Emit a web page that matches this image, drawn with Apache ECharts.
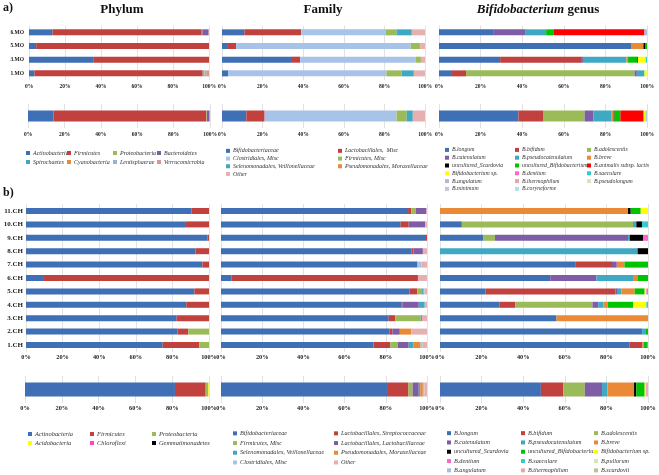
<!DOCTYPE html>
<html>
<head>
<meta charset="utf-8">
<script src="https://cdn.jsdelivr.net/npm/echarts@6.0.0/dist/echarts.min.js"></script>
<style>html,body{margin:0;padding:0;background:#fff}#main{width:659px;height:475px}</style>
</head>
<body>
<div id="main"></div>
<script>
// ---- data (a = infants by month, b = children) ----
var monthCats = ['1.MO', '3.MO', '5.MO', '6.MO']
var childCats = ['1.CH', '2.CH', '3.CH', '4.CH', '5.CH', '6.CH', '7.CH', '8.CH', '9.CH', '10.CH', '11.CH']

var topPhylumTaxa = ['Actinobacteria', 'Firmicutes', 'Proteobacteria', 'Bacteroidetes', 'Spirochaetes', 'Cyanobacteria', 'Lentisphaerae', 'Verrucomicrobia']
var topPhylumValues = [
  [3, 36, 4, 13],
  [93.5, 64, 96, 83],
  [1, 0, 0, 0.3],
  [0, 0, 0, 3.5],
  [0, 0, 0, 0],
  [0, 0, 0, 0],
  [1, 0, 0, 0],
  [1.5, 0, 0, 0.2]
]
var topPhylumTotal = [14, 84, 0.3, 1.2, 0, 0, 0, 0.5]

var topFamilyTaxa = ['Bifidobacteriaceae', 'Lactobacillales,  Misc', 'Clostridiales, Misc', 'Firmicutes, Misc', 'Selenomonadales, Veillonellaceae', 'Pseudomonadales, Moraxellaceae', 'Other']
var topFamilyValues = [
  [3, 34, 2.5, 11],
  [0, 4.5, 4.5, 28],
  [78, 57, 86, 41.5],
  [7.5, 2.5, 4.5, 5.5],
  [6, 0, 0, 7.5],
  [0, 0, 0.3, 0],
  [5.5, 2, 2.2, 6.5]
]
var topFamilyTotal = [12, 9, 65, 5, 3, 0, 6]

var topGenusTaxa = ['B.longum', 'B.bifidum', 'B.adolescentis', 'B.catenulatum', 'B.pseudocatenulatum', 'B.breve', 'uncultured_Scardovia', 'uncultured_Bifidobacterium', 'B.animalis subsp. lactis', 'Bifidobacterium sp.', 'B.dentium', 'B.saeculare', 'B.angulatum', 'B.thermophilum', 'B.pseudolongum', 'B.minimum', 'B.coryneforme']
var topGenusValues = [
  [5.8, 29.4, 92.3, 26],
  [7.2, 39.3, 0, 0],
  [81, 0, 0, 0],
  [1.1, 0.5, 0, 15.7],
  [3.7, 20.9, 0, 9.8],
  [0, 0.8, 6, 0],
  [0, 0, 1, 0],
  [0, 4.3, 0.7, 3.5],
  [0, 0.5, 0, 43.8],
  [1.1, 3.7, 0, 0],
  [0, 0, 0, 0],
  [0, 0.6, 0, 0],
  [0, 0, 0, 1.2],
  [0, 0, 0, 0],
  [0, 0, 0, 0],
  [0, 0, 0, 0],
  [0, 0, 0, 0]
]
var topGenusTotal = [38.2, 11.8, 20, 4.3, 8.5, 1.2, 0.4, 2.8, 11.2, 1, 0, 0.3, 0.3, 0, 0, 0, 0]

var botPhylumTaxa = ['Actinobacteria', 'Firmicutes', 'Proteobacteria', 'Acidobacteria', 'Chloroflexi', 'Gemmatimonadetes']
var botPhylumValues = [
  [74.7, 82.9, 82.3, 87.6, 92, 9.8, 96.4, 92.7, 99.1, 87.4, 90.5],
  [20, 5.8, 17.7, 12.4, 8, 90.2, 3.6, 7.3, 0.9, 12.6, 9.5],
  [5.3, 11.3, 0, 0, 0, 0, 0, 0, 0, 0, 0],
  [0, 0, 0, 0, 0, 0, 0, 0, 0, 0, 0],
  [0, 0, 0, 0, 0, 0, 0, 0, 0, 0, 0],
  [0, 0, 0, 0, 0, 0, 0, 0, 0, 0, 0]
]
var botPhylumTotal = [81.5, 16.7, 1.5, 0.3, 0, 0]

var botFamilyTaxa = ['Bifidobacteriaceae', 'Lactobacillales, Streptococcaceae', 'Firmicutes, Misc', 'Lactobacillales, Lactobacillaceae', 'Selenomonadales, Veillonellaceae', 'Pseudomonadales, Moraxellaceae', 'Clostridiales, Misc', 'Other']
var botFamilyValues = [
  [74, 81.9, 81.4, 87.5, 91.6, 5.2, 95.4, 92.4, 99.5, 87.2, 90.8],
  [8.2, 1.3, 3.2, 0.5, 3.7, 90.4, 0, 1, 0.5, 3.9, 1.6],
  [3.7, 0, 12.3, 0, 2.3, 0, 0, 0, 0, 0, 2.1],
  [5.2, 3.6, 0, 8, 0, 0, 0, 4.6, 0, 8.1, 5.2],
  [2.4, 0, 0.7, 2.9, 0.8, 0, 0, 0, 0, 0, 0],
  [3.4, 5.6, 0, 0, 0, 0, 0, 0, 0, 0, 0],
  [1, 0, 0, 0, 0.4, 0, 1.9, 0, 0, 0, 0],
  [2.1, 7.6, 2.4, 1.1, 1.2, 4.4, 2.7, 2, 0, 0.8, 0.3]
]
var botFamilyTotal = [80.6, 10.4, 2, 3, 0.7, 1.3, 0.8, 1.2]

var botGenusTaxa = ['B.longum', 'B.bifidum', 'B.adolescentis', 'B.catenulatum', 'B.pseudocatenulatum', 'B.breve', 'uncultured_Scardovia', 'uncultured_Bifidobacterium', 'Bifidobacterium sp.', 'B.dentium', 'B.saeculare', 'B.pullorum', 'B.angulatum', 'B.thermophilum', 'B.scardovii']
var botGenusValues = [
  [91.2, 97.2, 56, 28.7, 21.8, 53, 65, 0, 20.9, 10.5, 0],
  [6.2, 0, 0, 7.5, 62.5, 0, 17.7, 0, 0, 0, 0],
  [0, 0, 0, 37.1, 0, 0, 0, 0, 5.5, 82.3, 0],
  [0, 0, 0, 2.8, 0.8, 22.2, 2.3, 0, 64, 0, 0],
  [0, 1.8, 0, 2.4, 2.1, 17.6, 0, 95, 0.8, 1.6, 0],
  [0.5, 0, 44, 2.1, 6.4, 2.4, 3.7, 0, 0, 0, 90.4],
  [0, 0, 0, 0, 0, 0, 0, 5, 6.4, 2.7, 1.3],
  [1.6, 1, 0, 12.3, 4.8, 4.8, 11.3, 0, 0, 0, 4.8],
  [0, 0, 0, 6.3, 0.8, 0, 0, 0, 0, 0, 3.5],
  [0, 0, 0, 0, 0.8, 0, 0, 0, 2.4, 0, 0],
  [0.5, 0, 0, 0.8, 0, 0, 0, 0, 0, 2.9, 0],
  [0, 0, 0, 0, 0, 0, 0, 0, 0, 0, 0],
  [0, 0, 0, 0, 0, 0, 0, 0, 0, 0, 0],
  [0, 0, 0, 0, 0, 0, 0, 0, 0, 0, 0],
  [0, 0, 0, 0, 0, 0, 0, 0, 0, 0, 0]
]
var botGenusTotal = [48.5, 10.7, 10.4, 8.3, 2.6, 12.8, 1.1, 4, 0.8, 0.3, 0.3, 0, 0.2, 0, 0]

// ---- colours ----
var BLUE = '#3F6FB5', RED = '#C0413E', GREEN = '#9BBB59', PURPLE = '#7E5DA6', AQUA = '#3FA9C4', ORANGE = '#EB8A36'
var colors = {
  'Actinobacteria': BLUE, 'Firmicutes': RED, 'Proteobacteria': GREEN, 'Bacteroidetes': PURPLE,
  'Spirochaetes': AQUA, 'Cyanobacteria': ORANGE, 'Lentisphaerae': '#95B3D7', 'Verrucomicrobia': '#D99694',
  'Acidobacteria': '#FFFF00', 'Chloroflexi': '#FF44CC', 'Gemmatimonadetes': '#000000',
  'Bifidobacteriaceae': BLUE, 'Lactobacillales,  Misc': RED, 'Lactobacillales, Streptococcaceae': RED,
  'Clostridiales, Misc': '#A8C3E8', 'Firmicutes, Misc': GREEN, 'Lactobacillales, Lactobacillaceae': PURPLE,
  'Selenomonadales, Veillonellaceae': AQUA, 'Pseudomonadales, Moraxellaceae': ORANGE, 'Other': '#E6AFB0',
  'B.longum': BLUE, 'B.bifidum': RED, 'B.adolescentis': GREEN, 'B.catenulatum': PURPLE,
  'B.pseudocatenulatum': AQUA, 'B.breve': ORANGE, 'uncultured_Scardovia': '#000000',
  'uncultured_Bifidobacterium': '#00C400', 'B.animalis subsp. lactis': '#FF0000', 'Bifidobacterium sp.': '#FFFF00',
  'B.dentium': '#FF66CC', 'B.saeculare': '#33CCCC', 'B.angulatum': '#A6BEDC', 'B.thermophilum': '#E3A9A8',
  'B.pseudolongum': '#D7E4BD', 'B.minimum': '#CCC1DA', 'B.coryneforme': '#B7DDE8', 'B.pullorum': '#D7E4BD',
  'B.scardovii': '#C4BD97'
}

var serif = '"Liberation Serif", "DejaVu Serif", serif'

// panel layout: rect = [left, top, width, height]
var panels = [
  { cats: monthCats, taxa: topPhylumTaxa, vals: topPhylumValues, rect: [29, 25.5, 180, 54.7], bw: 6, xfs: 5.5, xm: 3, yfs: 5.5, ym: 5 },
  { cats: monthCats, taxa: topFamilyTaxa, vals: topFamilyValues, rect: [222, 25.5, 203, 54.7], bw: 6, xfs: 5.5, xm: 3 },
  { cats: monthCats, taxa: topGenusTaxa, vals: topGenusValues, rect: [439, 25.5, 208, 54.7], bw: 6, xfs: 5.5, xm: 3 },
  { cats: [''], taxa: topPhylumTaxa, vals: topPhylumTotal, rect: [28, 104, 182, 24], bw: 11, xfs: 5.5, xm: 4 },
  { cats: [''], taxa: topFamilyTaxa, vals: topFamilyTotal, rect: [222, 104, 203, 24], bw: 11, xfs: 5.5, xm: 4 },
  { cats: [''], taxa: topGenusTaxa, vals: topGenusTotal, rect: [439, 104, 208, 24], bw: 11, xfs: 5.5, xm: 4 },
  { cats: childCats, taxa: botPhylumTaxa, vals: botPhylumValues, rect: [26, 204.3, 183, 147.4], bw: 6, xfs: 6.3, xm: 3, yfs: 7, ym: 3 },
  { cats: childCats, taxa: botFamilyTaxa, vals: botFamilyValues, rect: [221, 204.3, 206, 147.4], bw: 6, xfs: 6.3, xm: 3 },
  { cats: childCats, taxa: botGenusTaxa, vals: botGenusValues, rect: [440, 204.3, 208, 147.4], bw: 6, xfs: 6.3, xm: 3 },
  { cats: [''], taxa: botPhylumTaxa, vals: botPhylumTotal, rect: [25, 376, 184, 27], bw: 14, xfs: 6.3, xm: 2 },
  { cats: [''], taxa: botFamilyTaxa, vals: botFamilyTotal, rect: [221, 376, 206, 27], bw: 14, xfs: 6.3, xm: 2 },
  { cats: [''], taxa: botGenusTaxa, vals: botGenusTotal, rect: [440, 376, 208, 27], bw: 14, xfs: 6.3, xm: 2 }
]

var grids = [], xAxes = [], yAxes = [], series = []
panels.forEach(function (p, i) {
  grids.push({ left: p.rect[0], top: p.rect[1], width: p.rect[2], height: p.rect[3], outerBoundsMode: 'none', containLabel: false })
  xAxes.push({
    type: 'value', gridIndex: i, min: 0, max: 100, interval: 20,
    axisLine: { show: false }, axisTick: { show: false },
    splitLine: { lineStyle: { color: '#d6d6d6', width: 0.7 } },
    axisLabel: { formatter: '{value}%', fontFamily: serif, fontWeight: 'bold', fontSize: p.xfs, color: '#222', margin: p.xm }
  })
  yAxes.push({
    type: 'category', gridIndex: i, data: p.cats,
    axisLine: { show: false }, axisTick: { show: false }, splitLine: { show: false },
    axisLabel: { show: !!p.yfs, fontFamily: serif, fontWeight: 'bold', fontSize: p.yfs || 6, color: '#222', margin: p.ym || 3 }
  })
  p.taxa.forEach(function (name, k) {
    var v = p.vals[k]
    series.push({
      type: 'bar', name: name, xAxisIndex: i, yAxisIndex: i, stack: 'p' + i,
      barWidth: p.bw, data: Array.isArray(v) ? v : [v],
      itemStyle: { color: colors[name] }, silent: true
    })
  })
})

// legends laid out in columns (row-major order like the original)
var legends = []
function legendBlock(names, lefts, top, rowH, fs) {
  lefts.forEach(function (left, c) {
    var col = names.filter(function (n, i) { return i % lefts.length === c })
    legends.push({
      data: col, orient: 'vertical', left: left, top: top, padding: 0,
      itemGap: 0, itemWidth: 4, itemHeight: 4, icon: 'rect', selectedMode: false,
      textStyle: { fontFamily: serif, fontStyle: 'italic', fontSize: fs, lineHeight: rowH, color: '#333', padding: [0, 0, 0, -2] }
    })
  })
}
legendBlock(topPhylumTaxa, [26, 67, 113, 157], 148.5, 9, 6)
legendBlock(topFamilyTaxa, [226, 338], 147, 7.7, 6)
legendBlock(topGenusTaxa, [445, 515, 587], 146, 7.8, 5.8)
legendBlock(botPhylumTaxa, [28, 90, 152], 429.5, 9, 6.4)
legendBlock(botFamilyTaxa, [233, 334], 428.5, 9.7, 6.2)
legendBlock(botGenusTaxa, [447, 521, 594], 428.5, 9.3, 6.2)

var titleFont = { fontFamily: serif, fontWeight: 'bold', fontSize: 13, fill: '#111' }
var myChart = echarts.init(document.getElementById('main'), null, { renderer: 'canvas' })
myChart.setOption({
  backgroundColor: '#fff',
  animation: false,
  grid: grids,
  xAxis: xAxes,
  yAxis: yAxes,
  legend: legends,
  series: series,
  graphic: [
    { type: 'text', x: 3, y: 2, style: Object.assign({ text: 'a)' }, titleFont, { fontSize: 12 }) },
    { type: 'text', x: 3, y: 187, style: Object.assign({ text: 'b)' }, titleFont, { fontSize: 12 }) },
    { type: 'text', x: 122, y: 3, style: Object.assign({ text: 'Phylum', align: 'center' }, titleFont) },
    { type: 'text', x: 323, y: 3, style: Object.assign({ text: 'Family', align: 'center' }, titleFont) },
    {
      type: 'text', x: 538, y: 3,
      style: Object.assign({
        text: '{i|Bifidobacterium} genus', align: 'center',
        rich: { i: { fontFamily: serif, fontWeight: 'bold', fontStyle: 'italic', fontSize: 13, fill: '#111' } }
      }, titleFont)
    }
  ]
})
</script>
</body>
</html>
